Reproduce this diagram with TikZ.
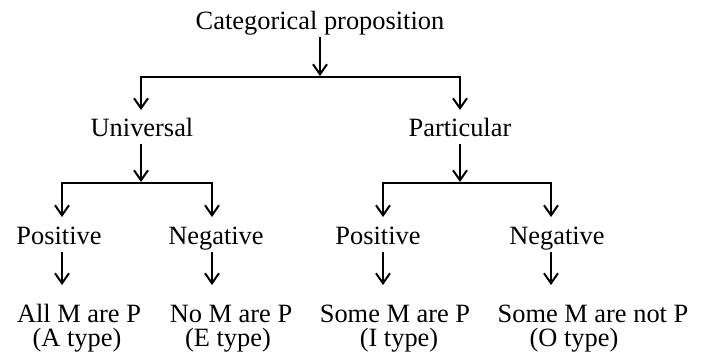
\documentclass[tikz,border=0pt]{standalone}
\usepackage{fontspec}
\setmainfont{Liberation Serif}
\usetikzlibrary{arrows.meta}
\tikzset{
  lbl/.style={anchor=base, inner sep=0pt, outer sep=1pt, text height=9pt, text depth=3pt,
    font=\fontsize{13.2}{15}\selectfont},
  ln1/.style={lbl, text depth=0pt},
  ln2/.style={lbl, text height=8pt},
  arr/.style={-{Straight Barb[length=5pt,width=7pt]}, line width=1pt, shorten >=3.5pt},
  bar/.style={line width=1pt, line cap=rect},
}
\begin{document}
\begin{tikzpicture}[x=0.5pt,y=-0.5pt]
  \useasboundingbox (0,0) rectangle (702,354);

  % Etiquetas
  \node[lbl] (cat) at (320,29) {Categorical proposition};
  \node[lbl] (uni) at (142,136) {Universal};
  \node[lbl] (par) at (460,136) {Particular};
  \node[lbl] (posA) at (59,244) {Positive};
  \node[lbl] (negA) at (216,244) {Negative};
  \node[lbl] (posB) at (378,244) {Positive};
  \node[lbl] (negB) at (557,244) {Negative};
  \node[ln1] (allA) at (79,322) {All M are P};
  \node[ln1] (noE) at (231,322) {No M are P};
  \node[ln1] (someI) at (395,322) {Some M are P};
  \node[ln1] (someO) at (593,322) {Some M are not P};
  \node[ln2] (typA) at (77,346) {(A type)};
  \node[ln2] (typE) at (228,346) {(E type)};
  \node[ln2] (typI) at (399,346) {(I type)};
  \node[ln2] (typO) at (574,346) {(O type)};

  % Barras
  \coordinate (b0L) at (141,77);
  \coordinate (b0R) at (460,77);
  \coordinate (b1L) at (62,183);
  \coordinate (b1R) at (212,183);
  \coordinate (b2L) at (383,183);
  \coordinate (b2R) at (551,183);
  \draw[bar] (b0L) -- (b0R);
  \draw[bar] (b1L) -- (b1R);
  \draw[bar] (b2L) -- (b2R);

  % Nivel 1
  \draw[arr, shorten >=0.5pt] (cat.south) -- (cat.south |- b0L);
  \draw[arr, shorten >=3pt] (b0L) -- (b0L |- uni.north);
  \draw[arr, shorten >=3pt] (b0R) -- (b0R |- par.north);

  % Nivel 2
  \draw[arr, shorten >=0.5pt] (uni.south -| b0L) -- (b0L |- b1L);
  \draw[arr, shorten >=0.5pt] (par.south -| b0R) -- (b0R |- b2L);
  \draw[arr] (b1L) -- (b1L |- posA.north);
  \draw[arr] (b1R) -- (b1R |- negA.north);
  \draw[arr] (b2L) -- (b2L |- posB.north);
  \draw[arr] (b2R) -- (b2R |- negB.north);

  % Nivel 3
  \draw[arr, shorten >=8.5pt] (posA.south -| b1L) -- (allA.north -| b1L);
  \draw[arr, shorten >=8.5pt] (negA.south -| b1R) -- (noE.north -| b1R);
  \draw[arr, shorten >=8.5pt] (posB.south -| b2L) -- (someI.north -| b2L);
  \draw[arr, shorten >=8.5pt] (negB.south -| b2R) -- (someO.north -| b2R);
\end{tikzpicture}
\end{document}
